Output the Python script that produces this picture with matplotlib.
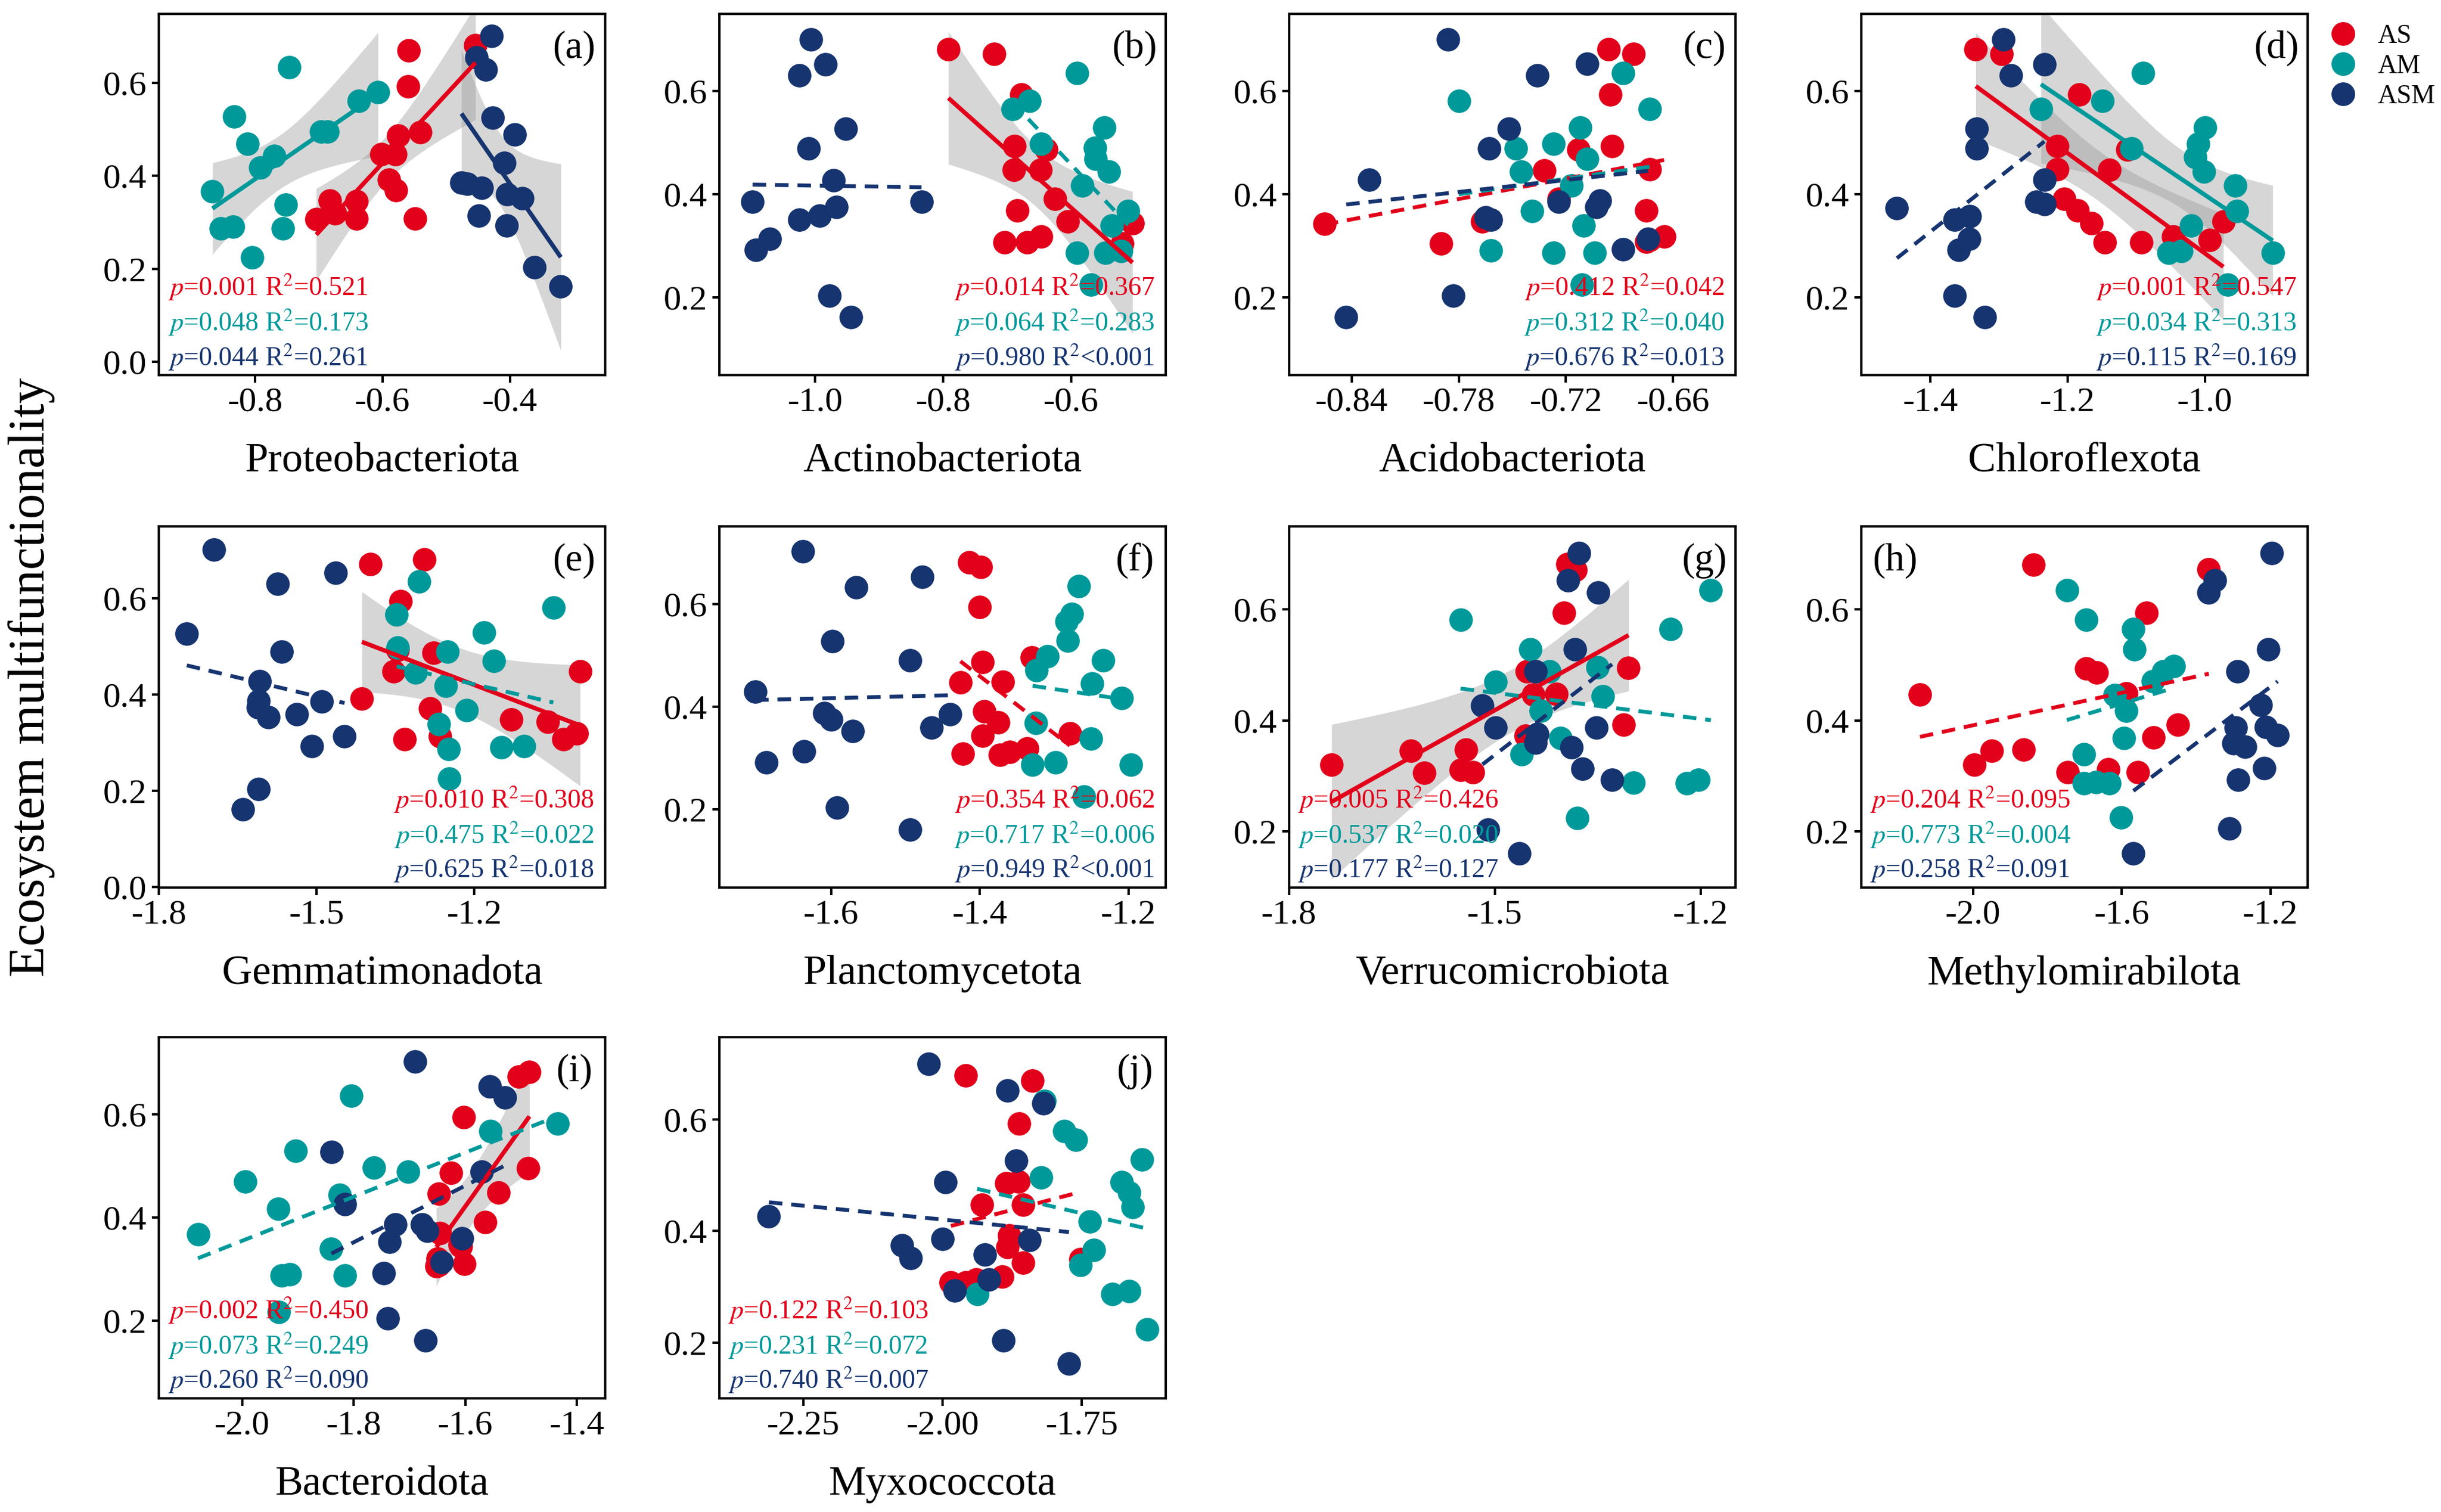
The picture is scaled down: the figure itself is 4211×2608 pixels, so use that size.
import numpy as np
import matplotlib
matplotlib.use('Agg')
import matplotlib.pyplot as plt
from matplotlib.ticker import FormatStrFormatter
from matplotlib.lines import Line2D

plt.rcParams['font.family'] = ['Liberation Serif', 'DejaVu Serif']
plt.rcParams['mathtext.fontset'] = 'stix'

# ---- data (x = log relative abundance, y = multifunctionality)
pa_as_x = [-0.559, -0.560, -0.454, -0.575, -0.541, -0.602, -0.580, -0.590, -0.579, -0.549, -0.683, -0.704, -0.674, -0.641, -0.641]
pa_as_y = [0.670, 0.593, 0.681, 0.487, 0.494, 0.447, 0.447, 0.392, 0.369, 0.308, 0.347, 0.307, 0.319, 0.346, 0.308]
pa_am_x = [-0.746, -0.833, -0.812, -0.770, -0.792, -0.867, -0.752, -0.854, -0.835, -0.756, -0.805, -0.696, -0.686, -0.637, -0.607]
pa_am_y = [0.634, 0.528, 0.469, 0.443, 0.418, 0.367, 0.338, 0.287, 0.291, 0.287, 0.225, 0.495, 0.496, 0.562, 0.581]
pa_asm_x = [-0.429, -0.452, -0.438, -0.427, -0.392, -0.409, -0.476, -0.444, -0.404, -0.380, -0.449, -0.405, -0.361, -0.320, -0.467]
pa_asm_y = [0.701, 0.655, 0.629, 0.526, 0.489, 0.428, 0.385, 0.375, 0.361, 0.352, 0.314, 0.293, 0.203, 0.162, 0.383]

pb_as_x = [-0.792, -0.720, -0.678, -0.689, -0.639, -0.690, -0.648, -0.625, -0.684, -0.605, -0.504, -0.704, -0.669, -0.647, -0.520]
pb_as_y = [0.681, 0.672, 0.594, 0.494, 0.487, 0.447, 0.447, 0.391, 0.369, 0.347, 0.344, 0.307, 0.307, 0.318, 0.305]
pb_am_x = [-0.591, -0.665, -0.691, -0.548, -0.563, -0.647, -0.562, -0.541, -0.583, -0.511, -0.536, -0.591, -0.546, -0.522, -0.569]
pb_am_y = [0.635, 0.581, 0.565, 0.529, 0.490, 0.498, 0.469, 0.444, 0.417, 0.368, 0.339, 0.287, 0.287, 0.290, 0.225]
pb_asm_x = [-1.007, -0.984, -1.025, -0.952, -1.010, -0.971, -1.098, -0.834, -1.025, -0.993, -0.967, -1.071, -1.093, -0.978, -0.944]
pb_asm_y = [0.701, 0.652, 0.631, 0.527, 0.489, 0.427, 0.386, 0.385, 0.351, 0.358, 0.375, 0.313, 0.292, 0.203, 0.161]

pc_as_x = [-0.855, -0.790, -0.767, -0.732, -0.724, -0.713, -0.696, -0.682, -0.695, -0.694, -0.673, -0.675, -0.665, -0.675, -0.673]
pc_as_y = [0.343, 0.305, 0.347, 0.446, 0.391, 0.487, 0.681, 0.672, 0.594, 0.494, 0.448, 0.369, 0.318, 0.308, 0.311]
pc_am_x = [-0.780, -0.688, -0.673, -0.712, -0.727, -0.748, -0.708, -0.745, -0.717, -0.739, -0.710, -0.762, -0.727, -0.704, -0.711]
pc_am_y = [0.581, 0.635, 0.565, 0.529, 0.498, 0.489, 0.469, 0.444, 0.417, 0.368, 0.339, 0.291, 0.287, 0.287, 0.225]
pc_asm_x = [-0.786, -0.708, -0.736, -0.752, -0.763, -0.830, -0.724, -0.701, -0.703, -0.765, -0.762, -0.688, -0.674, -0.783, -0.843]
pc_asm_y = [0.701, 0.653, 0.631, 0.527, 0.489, 0.428, 0.385, 0.388, 0.375, 0.355, 0.351, 0.293, 0.313, 0.203, 0.161]

pd_as_x = [-1.334, -1.296, -1.183, -1.215, -1.139, -1.215, -1.205, -1.186, -1.165, -0.973, -1.113, -1.146, -1.093, -1.046, -0.993]
pd_as_y = [0.681, 0.672, 0.594, 0.494, 0.447, 0.448, 0.391, 0.369, 0.344, 0.347, 0.487, 0.307, 0.307, 0.318, 0.311]
pd_am_x = [-1.090, -1.149, -1.239, -1.000, -1.010, -1.107, -1.014, -1.001, -0.956, -0.953, -1.020, -1.053, -1.034, -0.901, -0.967]
pd_am_y = [0.635, 0.581, 0.565, 0.529, 0.498, 0.489, 0.472, 0.444, 0.417, 0.368, 0.339, 0.287, 0.290, 0.287, 0.225]
pd_asm_x = [-1.294, -1.234, -1.283, -1.333, -1.333, -1.234, -1.449, -1.246, -1.234, -1.365, -1.343, -1.344, -1.359, -1.365, -1.321]
pd_asm_y = [0.701, 0.652, 0.631, 0.527, 0.489, 0.428, 0.373, 0.385, 0.381, 0.351, 0.357, 0.313, 0.292, 0.203, 0.161]

pe_as_x = [-1.398, -1.295, -1.340, -1.346, -1.278, -1.354, -0.999, -1.414, -1.284, -1.130, -1.061, -1.333, -1.265, -1.031, -1.005]
pe_as_y = [0.672, 0.681, 0.594, 0.493, 0.487, 0.449, 0.448, 0.392, 0.371, 0.348, 0.344, 0.308, 0.313, 0.307, 0.319]
pe_am_x = [-1.305, -1.050, -1.348, -1.182, -1.346, -1.251, -1.163, -1.312, -1.254, -1.215, -1.268, -1.249, -1.149, -1.106, -1.248]
pe_am_y = [0.635, 0.581, 0.566, 0.529, 0.498, 0.489, 0.470, 0.446, 0.418, 0.368, 0.339, 0.287, 0.291, 0.293, 0.225]
pe_asm_x = [-1.695, -1.747, -1.574, -1.464, -1.566, -1.608, -1.610, -1.612, -1.592, -1.538, -1.490, -1.447, -1.509, -1.610, -1.640]
pe_asm_y = [0.702, 0.527, 0.631, 0.653, 0.489, 0.428, 0.387, 0.374, 0.353, 0.359, 0.386, 0.314, 0.293, 0.204, 0.161]

pf_as_x = [-1.414, -1.399, -1.400, -1.396, -1.330, -1.426, -1.369, -1.394, -1.375, -1.396, -1.279, -1.423, -1.373, -1.360, -1.336]
pf_as_y = [0.681, 0.672, 0.594, 0.487, 0.496, 0.447, 0.448, 0.391, 0.369, 0.344, 0.348, 0.308, 0.306, 0.312, 0.319]
pf_am_x = [-1.267, -1.276, -1.283, -1.282, -1.309, -1.324, -1.234, -1.249, -1.209, -1.325, -1.251, -1.329, -1.298, -1.197, -1.260]
pf_am_y = [0.635, 0.581, 0.566, 0.528, 0.498, 0.471, 0.490, 0.445, 0.417, 0.368, 0.338, 0.287, 0.292, 0.287, 0.225]
pf_asm_x = [-1.638, -1.477, -1.566, -1.598, -1.494, -1.702, -1.609, -1.600, -1.571, -1.440, -1.465, -1.636, -1.687, -1.592, -1.494]
pf_asm_y = [0.702, 0.653, 0.632, 0.527, 0.490, 0.429, 0.388, 0.375, 0.353, 0.385, 0.359, 0.313, 0.292, 0.204, 0.161]

pg_as_x = [-1.738, -1.622, -1.603, -1.542, -1.550, -1.532, -1.394, -1.382, -1.399, -1.453, -1.410, -1.444, -1.455, -1.305, -1.312]
pg_as_y = [0.320, 0.345, 0.306, 0.348, 0.311, 0.307, 0.682, 0.671, 0.594, 0.489, 0.448, 0.447, 0.373, 0.495, 0.392]
pg_am_x = [-1.185, -1.550, -1.244, -1.448, -1.420, -1.499, -1.350, -1.343, -1.433, -1.404, -1.461, -1.298, -1.220, -1.203, -1.380]
pg_am_y = [0.635, 0.582, 0.565, 0.528, 0.489, 0.470, 0.496, 0.444, 0.418, 0.368, 0.339, 0.288, 0.287, 0.293, 0.224]
pg_asm_x = [-1.377, -1.393, -1.349, -1.383, -1.441, -1.518, -1.499, -1.438, -1.441, -1.352, -1.388, -1.372, -1.329, -1.510, -1.464]
pg_asm_y = [0.702, 0.653, 0.631, 0.528, 0.489, 0.427, 0.387, 0.376, 0.360, 0.387, 0.352, 0.313, 0.293, 0.203, 0.161]

ph_as_x = [-2.143, -1.837, -1.366, -1.533, -1.696, -1.667, -1.588, -1.449, -1.515, -1.950, -1.864, -1.996, -1.746, -1.636, -1.557]
ph_as_y = [0.447, 0.681, 0.672, 0.594, 0.494, 0.487, 0.449, 0.392, 0.370, 0.345, 0.348, 0.320, 0.307, 0.312, 0.307]
ph_am_x = [-1.748, -1.696, -1.570, -1.566, -1.461, -1.489, -1.516, -1.620, -1.588, -1.595, -1.702, -1.702, -1.669, -1.633, -1.602]
ph_am_y = [0.635, 0.582, 0.565, 0.528, 0.498, 0.489, 0.471, 0.446, 0.418, 0.368, 0.339, 0.287, 0.289, 0.287, 0.225]
ph_asm_x = [-1.197, -1.350, -1.366, -1.206, -1.289, -1.226, -1.293, -1.213, -1.181, -1.300, -1.269, -1.217, -1.287, -1.311, -1.569]
ph_asm_y = [0.702, 0.653, 0.631, 0.528, 0.489, 0.428, 0.387, 0.388, 0.374, 0.359, 0.353, 0.314, 0.293, 0.205, 0.161]

pi_as_x = [-1.504, -1.485, -1.603, -1.487, -1.626, -1.540, -1.647, -1.564, -1.645, -1.610, -1.608, -1.650, -1.652, -1.602, -1.647]
pi_as_y = [0.673, 0.682, 0.594, 0.495, 0.487, 0.448, 0.446, 0.391, 0.369, 0.347, 0.344, 0.320, 0.305, 0.310, 0.308]
pi_am_x = [-1.804, -1.435, -1.555, -1.904, -1.764, -1.703, -1.994, -1.825, -1.935, -2.079, -1.841, -1.929, -1.914, -1.816, -1.934]
pi_am_y = [0.636, 0.582, 0.567, 0.529, 0.497, 0.489, 0.470, 0.444, 0.417, 0.367, 0.339, 0.287, 0.290, 0.287, 0.217]
pi_asm_x = [-1.690, -1.556, -1.529, -1.840, -1.571, -1.816, -1.725, -1.678, -1.668, -1.736, -1.606, -1.642, -1.746, -1.739, -1.671]
pi_asm_y = [0.702, 0.654, 0.633, 0.527, 0.489, 0.426, 0.386, 0.386, 0.374, 0.353, 0.359, 0.313, 0.292, 0.204, 0.161]

pj_as_x = [-1.958, -1.839, -1.863, -1.886, -1.864, -1.929, -1.855, -1.880, -1.883, -1.752, -1.855, -1.893, -1.985, -1.958, -1.940]
pj_as_y = [0.679, 0.670, 0.593, 0.486, 0.489, 0.447, 0.447, 0.392, 0.371, 0.350, 0.343, 0.318, 0.308, 0.308, 0.313]
pj_am_x = [-1.817, -1.781, -1.761, -1.642, -1.823, -1.678, -1.665, -1.659, -1.736, -1.728, -1.752, -1.938, -1.695, -1.665, -1.632]
pj_am_y = [0.633, 0.579, 0.564, 0.528, 0.496, 0.488, 0.469, 0.443, 0.417, 0.366, 0.339, 0.287, 0.287, 0.292, 0.224]
pj_asm_x = [-2.025, -1.883, -1.819, -1.868, -1.995, -2.312, -2.000, -1.844, -2.073, -2.057, -1.924, -1.917, -1.978, -1.891, -1.773]
pj_asm_y = [0.700, 0.652, 0.629, 0.526, 0.488, 0.426, 0.386, 0.384, 0.374, 0.352, 0.358, 0.313, 0.293, 0.204, 0.162]

phyla = ['Proteobacteriota', 'Actinobacteriota', 'Acidobacteriota', 'Chloroflexota',
         'Gemmatimonadota', 'Planctomycetota', 'Verrucomicrobiota', 'Methylomirabilota',
         'Bacteroidota', 'Myxococcota']
tags = ['(a)', '(b)', '(c)', '(d)', '(e)', '(f)', '(g)', '(h)', '(i)', '(j)']
groups = ['AS', 'AM', 'ASM']

# p values and R2 per panel, order AS, AM, ASM
p_vals = [['0.001', '0.048', '0.044'], ['0.014', '0.064', '0.980'], ['0.412', '0.312', '0.676'],
          ['0.001', '0.034', '0.115'], ['0.010', '0.475', '0.625'], ['0.354', '0.717', '0.949'],
          ['0.005', '0.537', '0.177'], ['0.204', '0.773', '0.258'], ['0.002', '0.073', '0.260'],
          ['0.122', '0.231', '0.740']]
r2_vals = [['=0.521', '=0.173', '=0.261'], ['=0.367', '=0.283', '<0.001'], ['=0.042', '=0.040', '=0.013'],
           ['=0.547', '=0.313', '=0.169'], ['=0.308', '=0.022', '=0.018'], ['=0.062', '=0.006', '<0.001'],
           ['=0.426', '=0.020', '=0.127'], ['=0.095', '=0.004', '=0.091'], ['=0.450', '=0.249', '=0.090'],
           ['=0.103', '=0.072', '=0.007']]

xticks = [[-0.8, -0.6, -0.4], [-1.0, -0.8, -0.6], [-0.84, -0.78, -0.72, -0.66], [-1.4, -1.2, -1.0],
          [-1.8, -1.5, -1.2], [-1.6, -1.4, -1.2], [-1.8, -1.5, -1.2], [-2.0, -1.6, -1.2],
          [-2.0, -1.8, -1.6, -1.4], [-2.25, -2.00, -1.75]]
yticks = [[0.0, 0.2, 0.4, 0.6], [0.2, 0.4, 0.6], [0.2, 0.4, 0.6], [0.2, 0.4, 0.6],
          [0.0, 0.2, 0.4, 0.6], [0.2, 0.4, 0.6], [0.2, 0.4, 0.6], [0.2, 0.4, 0.6],
          [0.2, 0.4, 0.6], [0.2, 0.4, 0.6]]
xlims = [(-0.951, -0.250), (-1.150, -0.452), (-0.875, -0.625), (-1.501, -0.850), (-1.797, -0.951),
         (-1.750, -1.150), (-1.800, -1.149), (-2.301, -1.100), (-2.149, -1.349), (-2.401, -1.599)]
ylims = [(-0.029, 0.749), (0.049, 0.750), (0.049, 0.750), (0.049, 0.750), (-0.001, 0.750),
         (0.048, 0.751), (0.099, 0.750), (0.099, 0.750), (0.049, 0.750), (0.100, 0.748)]

xs_all = [[pa_as_x, pa_am_x, pa_asm_x], [pb_as_x, pb_am_x, pb_asm_x], [pc_as_x, pc_am_x, pc_asm_x],
          [pd_as_x, pd_am_x, pd_asm_x], [pe_as_x, pe_am_x, pe_asm_x], [pf_as_x, pf_am_x, pf_asm_x],
          [pg_as_x, pg_am_x, pg_asm_x], [ph_as_x, ph_am_x, ph_asm_x], [pi_as_x, pi_am_x, pi_asm_x],
          [pj_as_x, pj_am_x, pj_asm_x]]
ys_all = [[pa_as_y, pa_am_y, pa_asm_y], [pb_as_y, pb_am_y, pb_asm_y], [pc_as_y, pc_am_y, pc_asm_y],
          [pd_as_y, pd_am_y, pd_asm_y], [pe_as_y, pe_am_y, pe_asm_y], [pf_as_y, pf_am_y, pf_asm_y],
          [pg_as_y, pg_am_y, pg_asm_y], [ph_as_y, ph_am_y, ph_asm_y], [pi_as_y, pi_am_y, pi_asm_y],
          [pj_as_y, pj_am_y, pj_asm_y]]

colors = ['#E2001A', '#00999A', '#163470']


def t975(df):
    # approx. 97.5% quantile of t distribution
    z = 1.959964
    return z + (z**3 + z) / (4 * df) + (5 * z**5 + 16 * z**3 + 3 * z) / (96 * df**2)


def add_fit(ax, x, y, color, sig):
    x = np.asarray(x)
    y = np.asarray(y)
    n = len(x)
    b, a = np.polyfit(x, y, 1)
    xx = np.linspace(x.min(), x.max(), 80)
    yy = a + b * xx
    if sig:
        s = np.sqrt(np.sum((y - (a + b * x))**2) / (n - 2))
        sxx = np.sum((x - x.mean())**2)
        se = s * np.sqrt(1 / n + (xx - x.mean())**2 / sxx)
        tq = t975(n - 2)
        ax.fill_between(xx, yy - tq * se, yy + tq * se, color='#999999', alpha=0.4, lw=0, zorder=1)
        ax.plot(xx, yy, color=color, lw=1.8, zorder=4, solid_capstyle='butt')
    else:
        ax.plot(xx, yy, color=color, lw=1.6, ls=(0, (3.5, 2.3)), zorder=4)


fig = plt.figure(figsize=(4211 / 300, 2608 / 300), dpi=300)

col_left = [0.0651, 0.2947, 0.5281, 0.7625]
row_bottom = [0.7519, 0.4130, 0.0752]
w, h = 0.1829, 0.2389

for k in range(10):
    r, c = divmod(k, 4)
    ax = fig.add_axes([col_left[c], row_bottom[r], w, h])
    pv = [float(v) for v in p_vals[k]]
    for g in range(3):
        add_fit(ax, xs_all[k][g], ys_all[k][g], colors[g], pv[g] < 0.05)
    for g in range(3):
        ax.scatter(xs_all[k][g], ys_all[k][g], s=95, color=colors[g], lw=0, zorder=2 + g * 0.1)

    ax.set_xlim(xlims[k])
    ax.set_ylim(ylims[k])
    ax.set_xticks(xticks[k])
    ax.set_yticks(yticks[k])
    ndec = 2 if k in (2, 9) else 1
    ax.xaxis.set_major_formatter(FormatStrFormatter('%%.%df' % ndec))
    ax.yaxis.set_major_formatter(FormatStrFormatter('%.1f'))
    ax.tick_params(direction='out', length=3, width=1, labelsize=14.5, pad=2, colors='black')
    for sp in ax.spines.values():
        sp.set_linewidth(1.0)
    ax.set_xlabel(phyla[k], fontsize=17.3, labelpad=10)

    if k == 7:
        ax.text(0.075, 0.905, tags[k], transform=ax.transAxes, fontsize=16, ha='center', va='center')
    else:
        ax.text(0.93, 0.905, tags[k], transform=ax.transAxes, fontsize=16, ha='center', va='center')

    left = k in (0, 6, 7, 8, 9)
    for g, yy in enumerate([0.243, 0.146, 0.050]):
        txt = r'$\it{p}$=' + p_vals[k][g] + r' R$^{2}$' + r2_vals[k][g]
        if left:
            ax.text(0.02, yy, txt, transform=ax.transAxes, fontsize=11, color=colors[g],
                    ha='left', va='center', zorder=5)
        else:
            ax.text(0.975, yy, txt, transform=ax.transAxes, fontsize=11, color=colors[g],
                    ha='right', va='center', zorder=5)

fig.text(0.013, 0.552, 'Ecosystem multifunctionality', rotation=90, fontsize=21,
         ha='center', va='center')

handles = [Line2D([], [], ls='none', marker='o', ms=9.8, mec='none', mfc=colors[g]) for g in range(3)]
fig.legend(handles, groups, loc='upper left', bbox_to_anchor=(0.9544, 0.984), frameon=False,
           fontsize=11, handlelength=1.0, handletextpad=0.8, labelspacing=0.2, borderpad=0,
           borderaxespad=0)

fig.savefig('out.png', dpi=300)
